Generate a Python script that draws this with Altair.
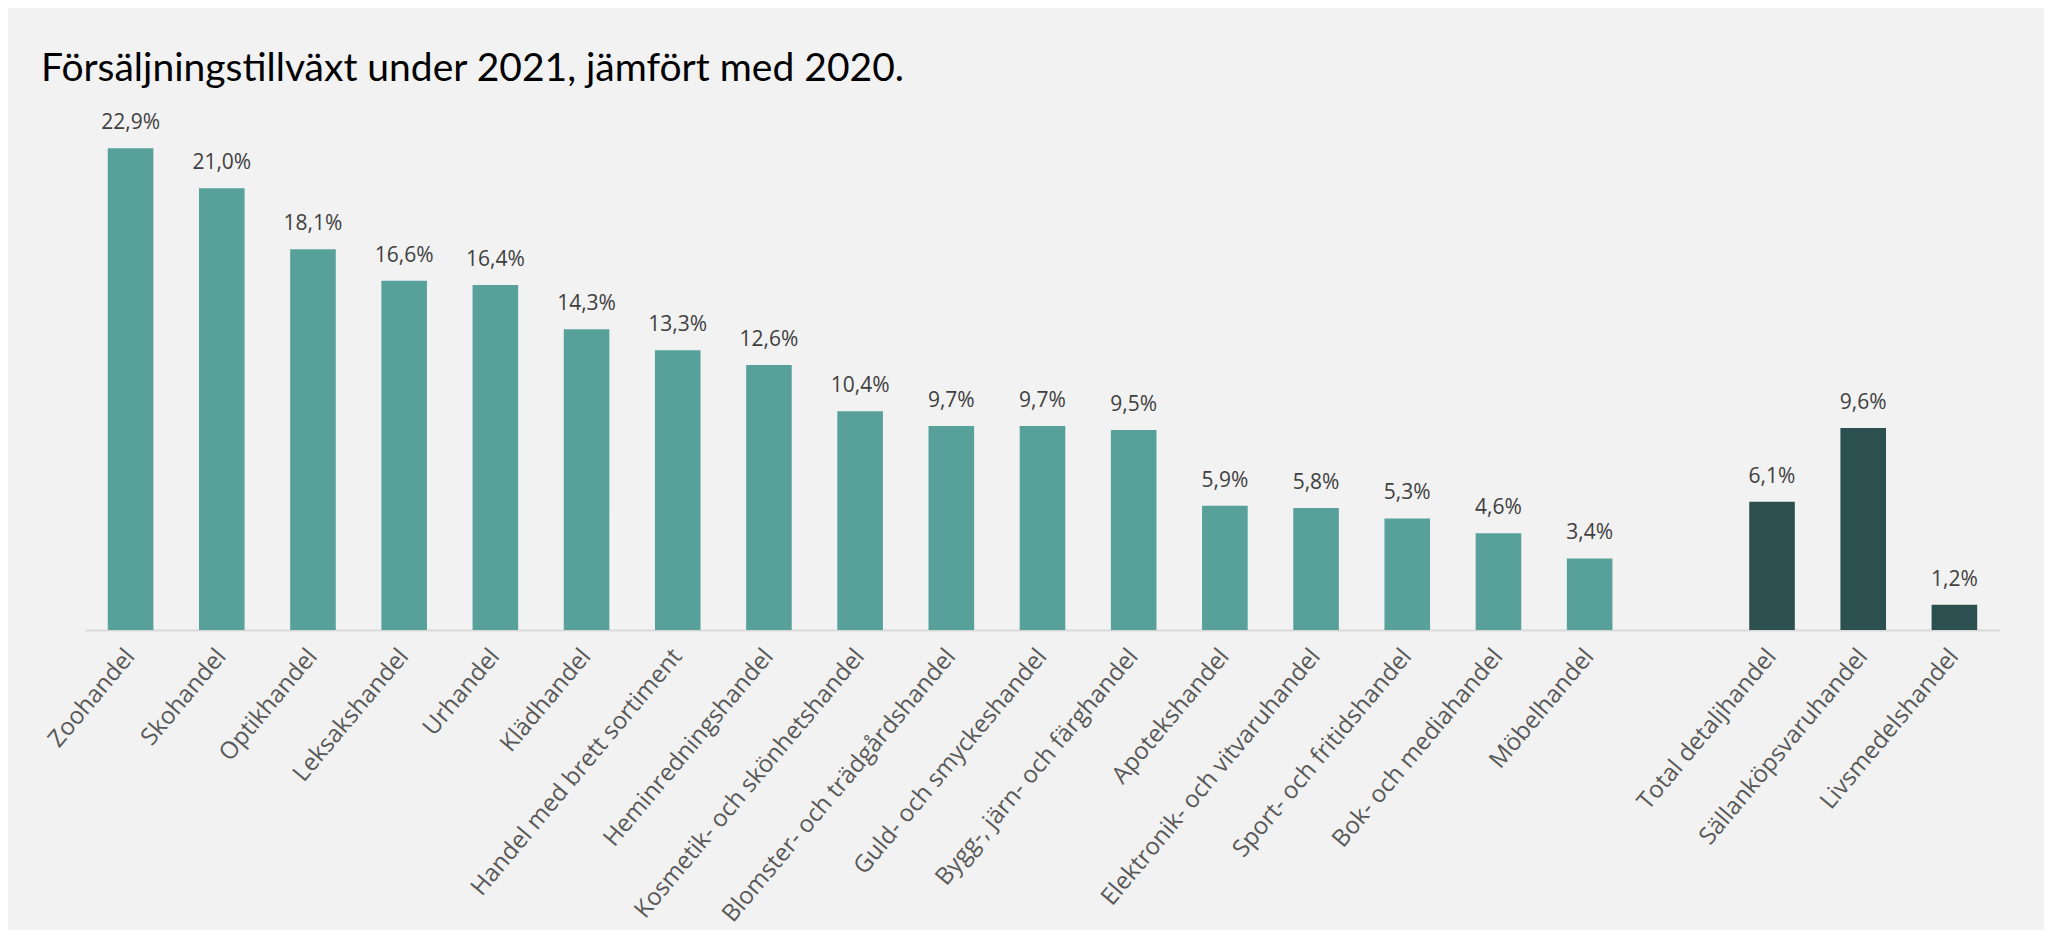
import altair as alt
import pandas as pd

categories = [
    "Zoohandel", "Skohandel", "Optikhandel", "Leksakshandel", "Urhandel",
    "Klädhandel", "Handel med brett sortiment", "Heminredningshandel",
    "Kosmetik- och skönhetshandel", "Blomster- och trädgårdshandel",
    "Guld- och smyckeshandel", "Bygg-, järn- och färghandel", "Apotekshandel",
    "Elektronik- och vitvaruhandel", "Sport- och fritidshandel",
    "Bok- och mediahandel", "Möbelhandel",
    "Total detaljhandel", "Sällanköpsvaruhandel", "Livsmedelshandel",
]
values = [22.9, 21.0, 18.1, 16.6, 16.4, 14.3, 13.3, 12.6, 10.4, 9.7, 9.7, 9.5,
          5.9, 5.8, 5.3, 4.6, 3.4, 6.1, 9.6, 1.2]
groups = ["Bransch"] * 17 + ["Total"] * 3
spacer = " "
domain = categories[:17] + [spacer] + categories[17:]

df = pd.DataFrame({
    "kategori": categories,
    "varde": values,
    "grupp": groups,
    "etikett": [f"{v:.1f}%".replace(".", ",") for v in values],
})

x = alt.X("kategori:N", sort=domain, scale=alt.Scale(domain=domain, paddingInner=0.5, paddingOuter=0.25),
          axis=alt.Axis(title=None, labelAngle=-50, labelFontSize=24, labelFont="Open Sans",
                        labelColor="#595959", labelPadding=22, ticks=False, domainColor="#d9d9d9",
                        domainWidth=2, labelLimit=0, labelOverlap=False))
y = alt.Y("varde:Q", scale=alt.Scale(domain=[0, 25], nice=False), axis=None)

bars = alt.Chart(df).mark_bar().encode(
    x=x, y=y,
    color=alt.Color("grupp:N", scale=alt.Scale(domain=["Bransch", "Total"], range=["#57a19a", "#2c504f"]), legend=None),
)
labels = alt.Chart(df).mark_text(baseline="alphabetic", dy=-19, fontSize=21, font="Open Sans", color="#404040").encode(
    x=x, y=y, text="etikett:N"
)

chart = alt.layer(bars, labels).properties(
    width=1915, height=526,
    title=alt.TitleParams("Försäljningstillväxt under 2021, jämfört med 2020.", anchor="start", fontSize=39,
                          font="Lato", fontWeight="normal", color="#000000", dx=-3, offset=26, dy=42,
                          baseline="alphabetic"),
    autosize=alt.AutoSizeParams(type="none"),
    padding={"left": 77, "top": 96, "right": 44, "bottom": 300},
    background="#f2f2f2",
).configure_view(stroke=None)

chart.save("out.html", embed_options={"renderer": "svg", "actions": False})
